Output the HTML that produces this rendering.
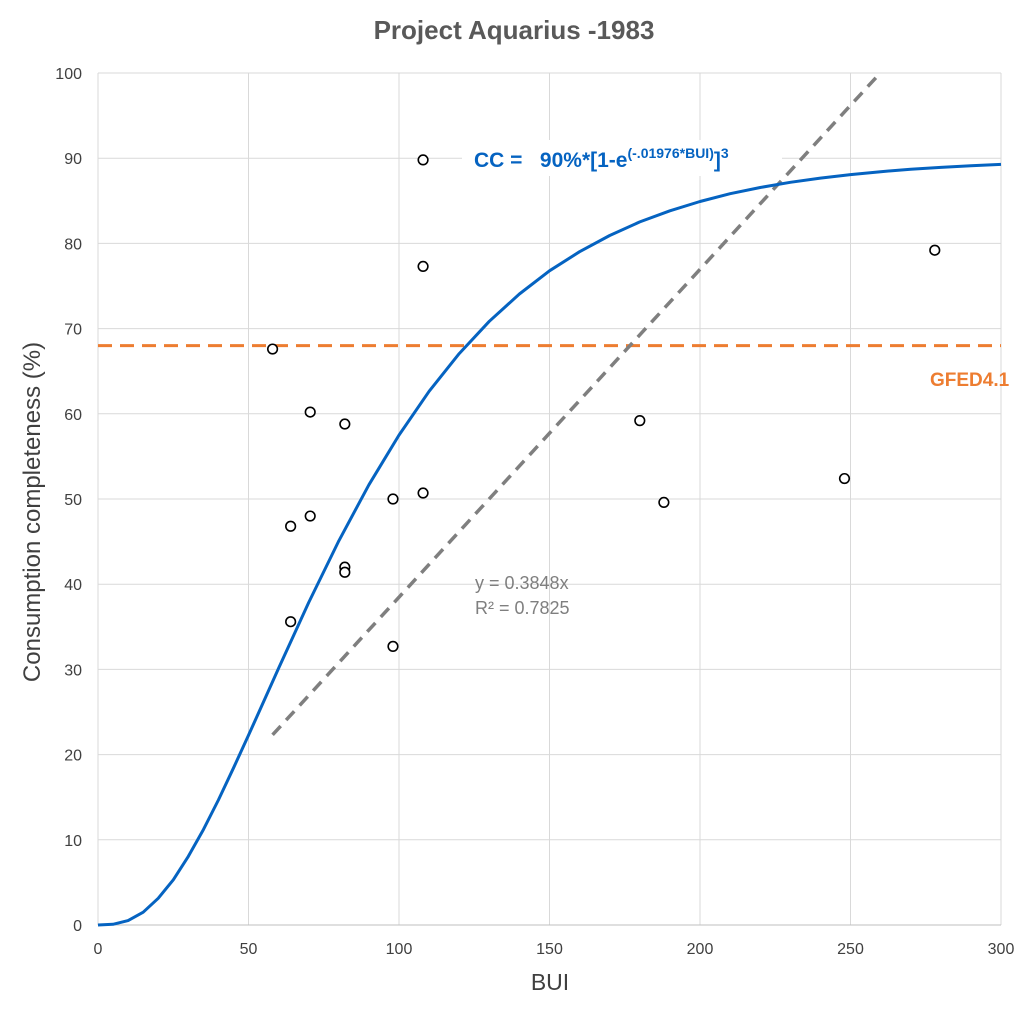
<!DOCTYPE html>
<html><head><meta charset="utf-8">
<style>
body{margin:0;background:#fff;}
svg text{font-family:"Liberation Sans",sans-serif;}
</style></head>
<body>
<svg id="chart" width="1033" height="1009" xmlns="http://www.w3.org/2000/svg">
<text x="514" y="39" text-anchor="middle" font-size="26" font-weight="bold" fill="#595959">Project Aquarius -1983</text>
<g id="grid"></g>
<g id="axes"></g>
<g id="series"></g>
<text transform="translate(40,512) rotate(-90)" text-anchor="middle" font-size="24" fill="#404040">Consumption completeness (%)</text>
<text x="550" y="990" text-anchor="middle" font-size="23" fill="#404040">BUI</text>
<g>
<rect x="462" y="140" width="320" height="36" fill="#fff"/>
<text x="474" y="167" font-size="21" font-weight="bold" fill="#0563C1">CC =&#160;&#160; 90%*[1-e<tspan font-size="14" dy="-9">(-.01976*BUI)</tspan><tspan dy="9">]</tspan><tspan font-size="14" dy="-9">3</tspan></text>
</g>
<text x="930" y="386" font-size="19" font-weight="bold" fill="#ED7D31">GFED4.1</text>
<text x="475" y="589" font-size="18" fill="#7f7f7f">y = 0.3848x</text>
<text x="475" y="614" font-size="18" fill="#7f7f7f">R² = 0.7825</text>
</svg>
<script>
const xTicks=[0,50,100,150,200,250,300];
const yTicks=[0,10,20,30,40,50,60,70,80,90,100];
const obsBUI=[58,64,64,70.5,70.5,82,82,82,98,98,108,108,108,180,188,248,278];
const obsCC=[67.6,46.8,35.6,60.2,48.0,58.8,42.0,41.4,50.0,32.7,89.8,77.3,50.7,59.2,49.6,52.4,79.2];
const curveBUI=[0,5,10,15,20,25,30,35,40,45,50,60,70,80,90,100,110,120,130,140,150,160,170,180,190,200,210,220,230,240,250,260,270,280,290,300];
const curveCC=[0,0.08,0.52,1.5,3.13,5.3,8.05,11.2,14.67,18.4,22.26,30.13,37.85,45.08,51.67,57.5,62.64,67.07,70.86,74.06,76.78,79.03,80.93,82.52,83.83,84.92,85.83,86.56,87.17,87.67,88.07,88.42,88.71,88.92,89.11,89.27];
const trendSlope=[0.3848];
const trendRange=[58,300];
const gfedLevel=[68];

const X0=98,X1=1001,Y0=925,Y1=73;
const sx=v=>X0+(v-0)/(300-0)*(X1-X0);
const sy=v=>Y0-(v-0)/(100-0)*(Y0-Y1);
const NS="http://www.w3.org/2000/svg";
function mk(tag,attrs,parent){const e=document.createElementNS(NS,tag);for(const k in attrs)e.setAttribute(k,attrs[k]);parent.appendChild(e);return e;}
const grid=document.getElementById('grid'),axes=document.getElementById('axes'),ser=document.getElementById('series');
xTicks.forEach(t=>{
  const l=mk('line',{x1:sx(t),x2:sx(t),y1:Y1,y2:Y0,stroke:'#d9d9d9','stroke-width':1},grid);
  
  
  const tx=mk('text',{x:sx(t),y:Y0+29,'text-anchor':'middle','font-size':16,fill:'#404040'},axes);
  tx.textContent=t;
  
  
});
yTicks.forEach(t=>{
  const l=mk('line',{x1:X0,x2:X1,y1:sy(t),y2:sy(t),stroke:'#d9d9d9','stroke-width':1},grid);
  
  
  const tx=mk('text',{x:X0-16,y:sy(t)+6,'text-anchor':'end','font-size':16,fill:'#404040'},axes);
  tx.textContent=t;
  
  
});
const xa=mk('line',{x1:X0,x2:X1,y1:Y0,y2:Y0,stroke:'#bfbfbf','stroke-width':1},axes);


const g=mk('line',{x1:X0,x2:X1,y1:sy(gfedLevel[0]),y2:sy(gfedLevel[0]),stroke:'#ED7D31','stroke-width':3,'stroke-dasharray':'14 8'},ser);


const tEnd=Math.min(trendRange[1],100/trendSlope[0]);
const tr=mk('line',{x1:sx(trendRange[0]),y1:sy(trendRange[0]*trendSlope[0]),x2:sx(tEnd),y2:sy(tEnd*trendSlope[0]),stroke:'#7f7f7f','stroke-width':3.5,'stroke-dasharray':'12 8'},ser);


const d=curveBUI.map((b,i)=>(i?'L':'M')+sx(b).toFixed(1)+','+sy(curveCC[i]).toFixed(1)).join(' ');
const c=mk('path',{d:d,fill:'none',stroke:'#0563C1','stroke-width':3,'stroke-linejoin':'round'},ser);


obsBUI.forEach((b,i)=>{
  const p=mk('circle',{cx:sx(b),cy:sy(obsCC[i]),r:4.8,fill:'#fff',stroke:'#000','stroke-width':1.6},ser);
  
  
});
</script>
</body></html>
